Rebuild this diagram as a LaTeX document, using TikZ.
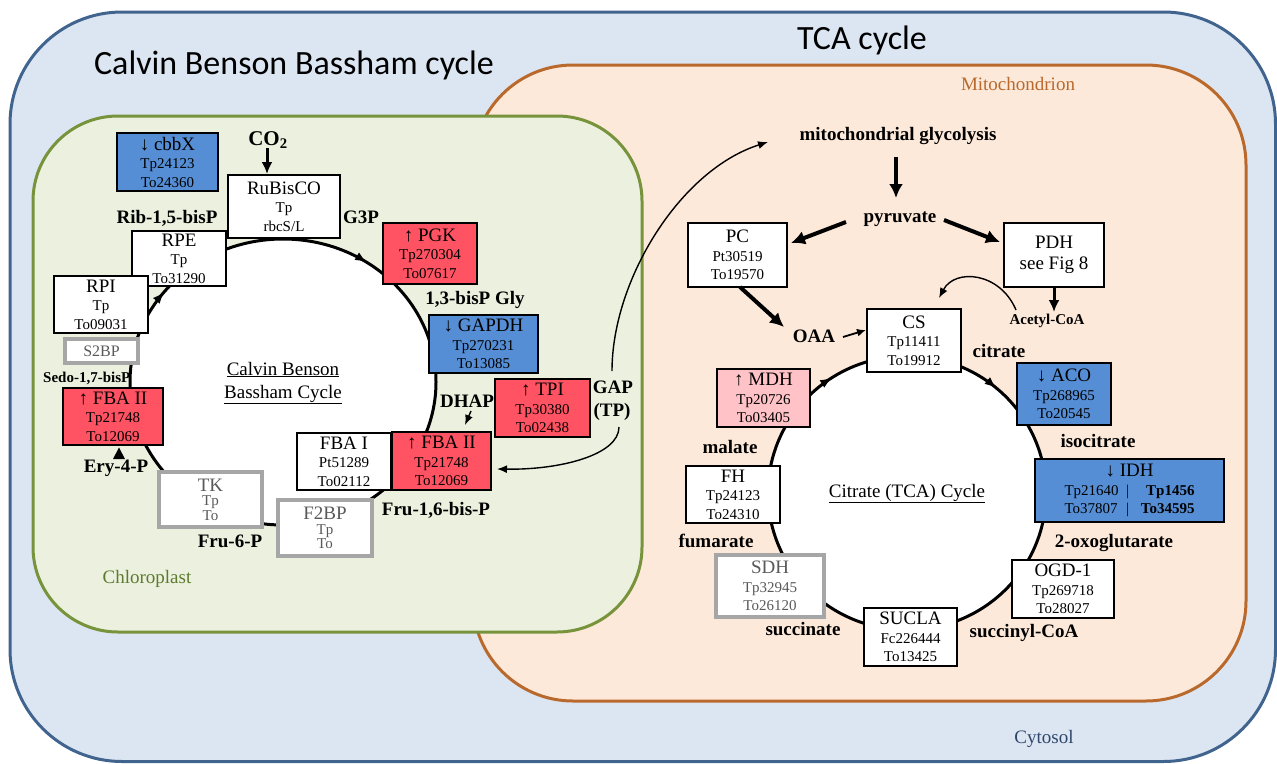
\documentclass[tikz,border=0pt]{standalone}
\usepackage{fontspec}
\setmainfont{Liberation Serif}
\newfontfamily\calibri{Carlito}
\usetikzlibrary{arrows.meta,decorations.markings}

\definecolor{cytofill}{HTML}{DCE6F2}
\definecolor{cytoline}{HTML}{41648F}
\definecolor{cytotext}{HTML}{2F466A}
\definecolor{mitofill}{HTML}{FDE9D9}
\definecolor{mitoline}{HTML}{B9692C}
\definecolor{chlfill}{HTML}{EBF1DE}
\definecolor{chlline}{HTML}{77933C}
\definecolor{chltext}{HTML}{5E7A2E}
\definecolor{upred}{HTML}{FF5262}
\definecolor{downblue}{HTML}{558ED5}
\definecolor{uppink}{HTML}{FFC2C6}
\definecolor{absentgray}{HTML}{A6A6A6}
\definecolor{absenttext}{HTML}{595959}

\newcommand{\fsz}[1]{\fontsize{#1}{#1}\selectfont}

\tikzset{
  enz/.style={draw=black, line width=2.5pt, fill=white, inner sep=0pt, align=center,
    font=\fontsize{15}{18.5}\selectfont},
  upreg/.style={enz, fill=upred},
  downreg/.style={enz, fill=downblue},
  mildup/.style={enz, fill=uppink},
  absent/.style={enz, draw=absentgray, line width=4pt, text=absenttext},
  tight/.style={font=\fontsize{15}{14.5}\selectfont},
  sized/.style 2 args={minimum width=#1pt, minimum height=#2pt},
  met/.style={font=\bfseries\fontsize{19}{19}\selectfont, anchor=base, inner sep=0pt},
  smet/.style={met, font=\bfseries\fontsize{15}{15}\selectfont},
  plain/.style={font=\fontsize{19}{19}\selectfont, anchor=base, inner sep=0pt},
  title/.style={font=\calibri\fontsize{34}{34}\selectfont, anchor=base, inner sep=0pt},
  cyc/.style={line width=3pt, draw=black, fill=white},
  bigarrow/.style={line width=4pt, -{Latex[length=14pt,width=14pt]}},
  midarrow/.style={line width=3pt, -{Latex[length=12pt,width=11pt]}},
  thinarrow/.style={line width=1.4pt, -{Latex[length=10pt,width=8pt]}},
}

\begin{document}
\begin{tikzpicture}[x=1pt,y=-1pt]
\useasboundingbox (0,0) rectangle (1277,763);

% compartments
\draw[line width=3pt, draw=cytoline, fill=cytofill, rounded corners=112pt]
  (10,12) rectangle (1275.5,761.5);
\draw[line width=3pt, draw=mitoline, fill=mitofill, rounded corners=100pt]
  (473,65) rectangle (1246,701);
\draw[line width=3pt, draw=chlline, fill=chlfill, rounded corners=85pt]
  (33,116) rectangle (642,632);

% headings and compartment names
\node[title] (cbbtitle) at (294,74) {Calvin Benson Bassham cycle};
\node[title] (tcatitle) at (862,49) {TCA cycle};
\node[plain, text=mitoline] (mitolab) at (1018,90) {Mitochondrion};
\node[plain, text=chltext] (chllab) at (147,583) {Chloroplast};
\node[plain, text=cytotext] (cytolab) at (1044,743) {Cytosol};

\node[smet, anchor=base west] (sedo) at (43,382) {Sedo-1,7-bisP};

% Calvin Benson Bassham cycle ring
\draw[cyc, postaction={decorate}, decoration={markings,
    mark=at position 0.155 with {\arrowreversed{Latex[length=12pt,width=9pt]}},
    mark=at position 0.394 with {\arrowreversed{Latex[length=12pt,width=9pt]}}}]
  (283,382) ellipse [x radius=153pt, y radius=143pt];

% TCA cycle ring
\draw[cyc, postaction={decorate}, decoration={markings,
    mark=at position 0.138 with {\arrowreversed{Latex[length=12pt,width=9pt]}},
    mark=at position 0.341 with {\arrowreversed{Latex[length=12pt,width=9pt]}}}]
  (907,493) ellipse [x radius=139pt, y radius=137pt];

% Calvin cycle enzymes
\node[downreg, sized={101}{58}] (cbbx) at (167.5,162) {{\fsz{19}↓ cbbX}\\Tp24123\\To24360};
\node[enz, sized={112}{63}] (rubisco) at (284,206.5) {{\fsz{19}RuBisCO}\\Tp\\rbcS/L};
\node[enz, sized={94}{55}] (rpe) at (179,258.5) {{\fsz{19}RPE}\\Tp\\To31290};
\node[enz, sized={94}{57}] (rpi) at (101,304.5) {{\fsz{19}RPI}\\Tp\\To09031};
\node[absent, sized={73}{24}, font=\fontsize{16}{16}\selectfont] (s2bp) at (101.5,351) {S2BP};
\node[upreg, sized={100}{57}] (fbaL) at (113,416.5) {{\fsz{19}↑ FBA II}\\Tp21748\\To12069};
\node[absent, tight, sized={103}{55}] (tk) at (210.5,499.5) {{\fsz{19}TK}\\Tp\\To};
\node[absent, tight, sized={94}{56}] (f2bp) at (325,528) {{\fsz{19}F2BP}\\Tp\\To};
\node[enz, sized={94}{57}] (fbaI) at (344,461.5) {{\fsz{19}FBA I}\\Pt51289\\To02112};
\node[upreg, sized={99}{58}] (fbaR) at (441.5,461) {{\fsz{19}↑ FBA II}\\Tp21748\\To12069};
\node[upreg, sized={95}{58}] (tpi) at (542.5,408) {{\fsz{19}↑ TPI}\\Tp30380\\To02438};
\node[downreg, sized={109}{58}] (gapdh) at (483.5,344) {{\fsz{19}↓ GAPDH}\\Tp270231\\To13085};
\node[upreg, sized={94}{61}] (pgk) at (430,253.5) {{\fsz{19}↑ PGK}\\Tp270304\\To07617};

% Calvin cycle metabolites
\node[met, font=\bfseries\fontsize{21}{21}\selectfont] (co2) at (268,145) {CO$_{\mathbf 2}$};
\node[met] (rib) at (167,223) {Rib-1,5-bisP};
\node[met] (g3p) at (361,223) {G3P};
\node[met] (bpg) at (475,304) {1,3-bisP Gly};
\node[met] (dhap) at (467,407) {DHAP};
\node[met] (gap) at (613,393) {GAP};
\node[met] (tp) at (612,416) {(TP)};
\node[met] (fbp) at (436,515) {Fru-1,6-bis-P};
\node[met] (f6p) at (230,547) {Fru-6-P};
\node[met] (e4p) at (116,472) {Ery-4-P};
\node[plain] (cbbname1) at (283,375) {\underline{Calvin Benson}};
\node[plain] (cbbname2) at (283,398) {\underline{Bassham Cycle}};
\fill (113,459) -- (125,459) -- (119,447.5) -- cycle;

% TCA cycle enzymes
\node[enz, sized={99}{64}] (pc) at (737.5,255) {{\fsz{19}PC}\\Pt30519\\To19570};
\node[enz, sized={100}{64}, font=\fontsize{19}{19}\selectfont] (pdh) at (1054,255) {PDH\\[2.5pt]see Fig 8};
\node[enz, sized={94}{63}] (cs) at (914,340.5) {{\fsz{19}CS}\\Tp11411\\To19912};
\node[downreg, sized={94}{62}] (aco) at (1064,394) {{\fsz{19}↓ ACO}\\Tp268965\\To20545};
\node[downreg, sized={189}{63}] (idh) at (1129.5,490.5)
  {{\fsz{19}↓ IDH}\\\makebox[54pt][l]{Tp21640}\makebox[18pt]{|}\makebox[58pt][r]{\bfseries Tp1456}\\
   \makebox[54pt][l]{To37807}\makebox[18pt]{|}\makebox[58pt][r]{\bfseries To34595}};
\node[enz, sized={102}{58}] (ogd) at (1063,589) {{\fsz{19}OGD-1}\\Tp269718\\To28027};
\node[enz, sized={93}{58}] (sucla) at (910.5,637) {{\fsz{19}SUCLA}\\Fc226444\\To13425};
\node[absent, sized={108}{62}] (sdh) at (770,586) {{\fsz{19}SDH}\\Tp32945\\To26120};
\node[enz, sized={94}{57}] (fh) at (733,494.5) {{\fsz{19}FH}\\Tp24123\\To24310};
\node[mildup, sized={93}{58}] (mdh) at (763.5,398) {{\fsz{19}↑ MDH}\\Tp20726\\To03405};

% TCA metabolites
\node[met] (glyc) at (898,140) {mitochondrial glycolysis};
\node[met] (pyr) at (900,222) {pyruvate};
\node[smet] (acoa) at (1047,324) {Acetyl-CoA};
\node[met] (oaa) at (814,342) {OAA};
\node[met] (cit) at (999,357) {citrate};
\node[met] (icit) at (1098,447) {isocitrate};
\node[met] (oxo) at (1114,547) {2-oxoglutarate};
\node[met] (sucoa) at (1024,637) {succinyl-CoA};
\node[met] (succ) at (803,635) {succinate};
\node[met] (fum) at (716,547) {fumarate};
\node[met] (mal) at (730,453) {malate};
\node[plain] (tcaname) at (907,497) {\underline{Citrate (TCA) Cycle}};

% connector end points
\coordinate (co2in) at (267,174);
\coordinate (dhapS) at (471,411);
\coordinate (dhapE) at (465,425);
\coordinate (gapUp) at (612,371);
\coordinate (gapDown) at (619,427);
\coordinate (fbaRin) at (497,469);
\coordinate (glycIn) at (768,142);
\coordinate (glycOut) at (896,157);
\coordinate (pyrIn) at (896,198);
\coordinate (pyrL) at (846,222);
\coordinate (pyrR) at (944,220);
\coordinate (pcIn) at (791,243);
\coordinate (pdhIn) at (1000,242);
\coordinate (acoaIn) at (1054,312);
\coordinate (pcOut) at (740,287);
\coordinate (oaaIn) at (784,327);
\coordinate (oaaOut) at (843,337);
\coordinate (csIn) at (866,330);
\coordinate (acoaOut) at (1016,310);
\coordinate (csTop) at (939,298);

% Calvin cycle connectors
\draw[midarrow] (co2.south -| co2in) -- (co2in);
\draw[thinarrow] (dhapS) -- (dhapE);
\draw[thinarrow] (gapUp) .. controls (612,280) and (680,170) .. (glycIn);
\draw[thinarrow] (gapDown) .. controls (619,455) and (560,470) .. (fbaRin);

% TCA connectors
\draw[bigarrow] (glycOut) -- (pyrIn);
\draw[bigarrow] (pyrL) -- (pcIn);
\draw[bigarrow] (pyrR) -- (pdhIn);
\draw[midarrow] (pdh.south -| acoaIn) -- (acoaIn);
\draw[bigarrow] (pcOut) -- (oaaIn);
\draw[line width=1.8pt, -{Latex[length=9pt,width=8pt]}] (oaaOut) -- (csIn);
\draw[thinarrow] (acoaOut) .. controls (1000,272) and (955,268) .. (csTop);

\end{tikzpicture}
\end{document}
